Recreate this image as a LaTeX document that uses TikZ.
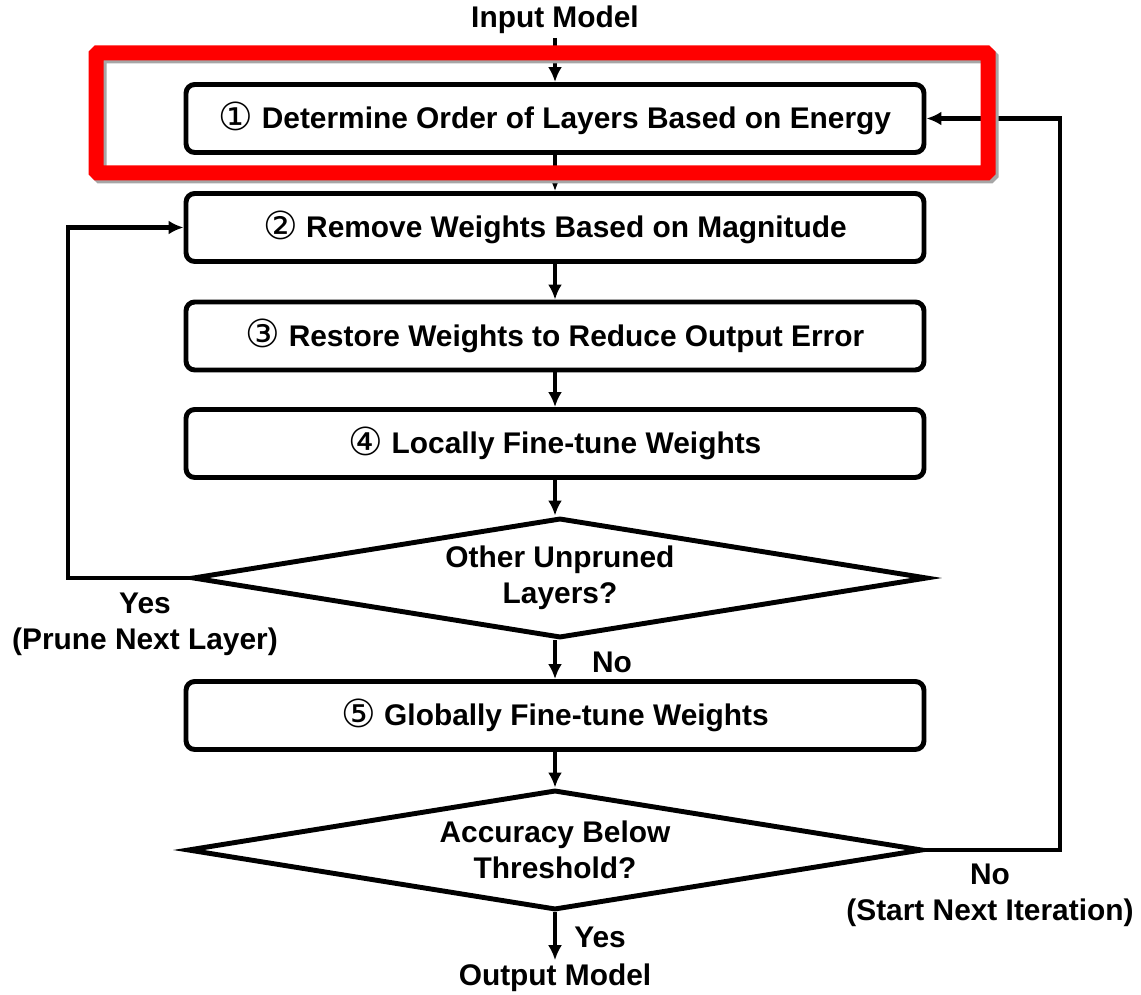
\documentclass[tikz,border=0pt]{standalone}
\usepackage{fontspec}
\setmainfont{Liberation Sans}
\newfontfamily\circfont{DejaVu Sans}
\usetikzlibrary{arrows.meta, shapes.geometric}
\tikzset{>={Latex[width=2.8mm,length=3mm]}}
\tikzset{
  stepbox/.style={draw=black, line width=2.8pt, rounded corners=5pt,
    minimum width=14.76cm, minimum height=1.36cm, inner sep=0pt},
  decision/.style={draw=black, line width=2.8pt, diamond, aspect=6,
    minimum width=14.7cm, minimum height=2.4cm, inner sep=0pt, align=center},
  lbl/.style={align=center, inner sep=2pt},
  link/.style={line width=2.3pt}
}
\newcommand{\stepno}[1]{\raisebox{-0.1ex}{\circfont\mdseries\fontsize{22}{22}\selectfont #1}\ }

\begin{document}
\begin{tikzpicture}[font=\bfseries\fontsize{17}{20.5}\selectfont]
    \useasboundingbox (0,0) rectangle (22.82,-19.9);

    \node[lbl] (input) at (11.1,-0.4) {Input Model};
    \node[stepbox] (order) at (11.1,-2.37) {\stepno{①}Determine Order of Layers Based on Energy};
    \node[stepbox] (remove) at (11.1,-4.55) {\stepno{②}Remove Weights Based on Magnitude};
    \node[stepbox] (restore) at (11.1,-6.72) {\stepno{③}Restore Weights to Reduce Output Error};
    \node[stepbox] (local) at (11.1,-8.87) {\stepno{④}Locally Fine-tune Weights};
    \node[decision] (unpruned) at (11.2,-11.56) {Other Unpruned\\Layers?};
    \node[stepbox] (global) at (11.1,-14.31) {\stepno{⑤}Globally Fine-tune Weights};
    \node[decision] (accuracy) at (11.1,-17.0) {Accuracy Below\\Threshold?};
    \node[lbl] (output) at (11.1,-19.56) {Output Model};

    \node[lbl] (yes-prune) at (2.9,-12.48) {Yes\\(Prune Next Layer)};
    \node[lbl] (no-layers) at (12.24,-13.24) {No};
    \node[lbl] (no-iter) at (19.8,-17.9) {No\\(Start Next Iteration)};
    \node[lbl] (yes-done) at (12.0,-18.74) {Yes};

    \coordinate (prune-turn) at (1.36,-11.56);
    \coordinate (iter-turn) at (21.2,-17.0);

    \draw[->, link] (input) -- (order);
    \draw[->, link] (order) -- (remove);
    \draw[->, link] (remove) -- (restore);
    \draw[->, link] (restore) -- (local);
    \draw[->, link] (local) -- (local |- unpruned.north);
    \draw[->, link] (local |- unpruned.south) -- (global);
    \draw[->, link] (global) -- (accuracy);
    \draw[->, link] (accuracy) -- (output);

    \draw[->, link] (unpruned.west) -- (prune-turn) |- (remove.west);
    \draw[->, link] (accuracy.east) -- (iter-turn) |- (order.east);

    % highlight frame
    \node[draw=black!35, line width=0.3cm, rounded corners=1pt,
      minimum width=17.84cm, minimum height=2.4cm] (focus-shadow) at (10.9,-2.32) {};
    \node[draw=red, line width=0.3cm, rounded corners=1pt,
      minimum width=17.84cm, minimum height=2.4cm] (focus) at (10.84,-2.26) {};
\end{tikzpicture}
\end{document}
